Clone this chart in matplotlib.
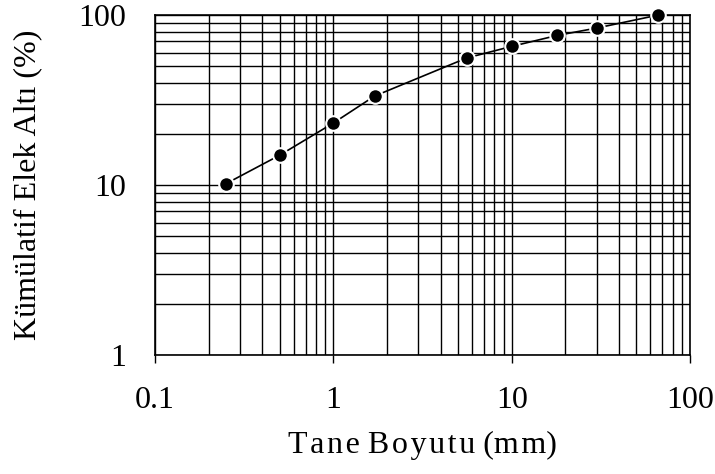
import matplotlib.pyplot as plt
from matplotlib.ticker import LogLocator, FixedLocator, NullFormatter

plt.rcParams['font.family'] = ['Liberation Serif', 'DejaVu Serif']

# particle size (mm) and cumulative passing (%)
size_mm = [0.25, 0.5, 1.0, 1.7, 5.6, 10, 18, 30, 66]
passing = [10.2, 15.0, 23.2, 33.4, 56, 65.5, 76, 84, 100]

x_ticks = [0.1, 1, 10, 100]
x_labels = ["0.1", "1", "10", "100"]
y_ticks = [1, 10, 100]
y_labels = ["1", "10", "100"]

fig = plt.figure(figsize=(7.15, 4.74), dpi=100)
ax = fig.add_axes([0.217, 0.251, 0.748, 0.717])

ax.set_xscale("log")
ax.set_yscale("log")
ax.set_xlim(0.1, 100)
ax.set_ylim(1, 100)

ax.plot(size_mm, passing, color="black", lw=1.2, marker="o", ms=10.5,
        markerfacecolor="black", markeredgecolor="white", markeredgewidth=1.5,
        zorder=3, clip_on=False)

ax.xaxis.set_major_locator(FixedLocator(x_ticks))
ax.set_xticklabels(x_labels)
ax.yaxis.set_major_locator(FixedLocator(y_ticks))
ax.set_yticklabels(y_labels)
ax.xaxis.set_minor_locator(LogLocator(base=10, subs=range(2, 10)))
ax.yaxis.set_minor_locator(LogLocator(base=10, subs=range(2, 10)))
ax.xaxis.set_minor_formatter(NullFormatter())
ax.yaxis.set_minor_formatter(NullFormatter())

ax.grid(True, which="both", color="black", lw=1.0)
ax.tick_params(axis="x", which="major", length=6, width=1, direction="out",
               labelsize=23, pad=16)
ax.tick_params(axis="y", which="major", length=0, labelsize=23, pad=21)
ax.tick_params(which="minor", length=0)

for s in ax.spines.values():
    s.set_linewidth(1.2)

# x label in the reference is slightly letter-spaced
ax.set_xlabel("T\u200aa\u200an\u200ae B\u200ao\u200ay\u200au\u200at\u200au (m\u200am)",
              fontsize=23, labelpad=12)
ax.set_ylabel("Kümülatif Elek Altı (%)", fontsize=23, labelpad=26)

fig.savefig("out.png", dpi=100)
